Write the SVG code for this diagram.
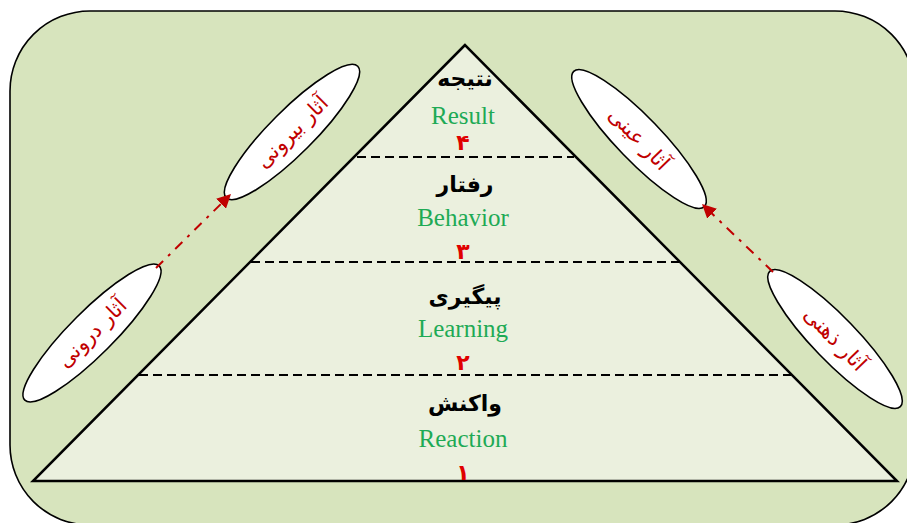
<svg xmlns="http://www.w3.org/2000/svg" width="907" height="523" viewBox="0 0 907 523">
<style>
.fa{font-family:"DejaVu Sans","Noto Sans",sans-serif;text-anchor:middle}
.lvl{font-size:22px;font-weight:bold;fill:#000}
.en{font-family:"Liberation Serif",serif;font-size:25px;fill:#1EAA55;text-anchor:middle}
.num{font-size:22px;font-weight:bold;fill:#E00000}
.oval{fill:#fff;stroke:#000;stroke-width:1.6}
.otxt{font-size:21px;fill:#C00000}
.dash{stroke:#000;stroke-width:2;stroke-dasharray:9 5;fill:none}
.arr{stroke:#C00000;stroke-width:2;stroke-dasharray:10 7 3 7;fill:none}
</style>
<defs>
<marker id="ah" viewBox="0 0 10 10" refX="9" refY="5" markerWidth="7" markerHeight="7" orient="auto" markerUnits="strokeWidth">
<path d="M0,0 L10,5 L0,10 Z" fill="#C00000"/>
</marker>
</defs>
<rect id="background" x="10" y="11" width="905" height="514" rx="80" ry="80" fill="#D7E4BD" stroke="#000" stroke-width="1.6"/>
<g id="pyramid">
<polygon points="465,45 33,481 897,481" fill="#EBF0DE" stroke="#000" stroke-width="2.5" stroke-linejoin="miter"/>
<line class="dash" x1="357" y1="157" x2="574" y2="157"/>
<line class="dash" x1="251" y1="262" x2="679" y2="262"/>
<line class="dash" x1="139" y1="375" x2="791" y2="375"/>
</g>
<g id="level4">
<text class="fa lvl" x="465" y="86">نتیجه</text>
<text class="en" x="463" y="124">Result</text>
<text class="fa num" x="463" y="150">۴</text>
</g>
<g id="level3">
<text class="fa lvl" x="465" y="192">رفتار</text>
<text class="en" x="463" y="226">Behavior</text>
<text class="fa num" x="463" y="259">۳</text>
</g>
<g id="level2">
<text class="fa lvl" x="465" y="304">پیگیری</text>
<text class="en" x="463" y="337">Learning</text>
<text class="fa num" x="463" y="370">۲</text>
</g>
<g id="level1">
<text class="fa lvl" x="465" y="411">واکنش</text>
<text class="en" x="463" y="447">Reaction</text>
<text class="fa num" x="463" y="480">۱</text>
</g>
<g id="inner-effects">
<ellipse class="oval" cx="92" cy="333" rx="95" ry="22" transform="rotate(-45 92 333)"/>
<text class="fa otxt" x="92" y="340" transform="rotate(-45 92 333)">آثار درونی</text>
</g>
<g id="outer-effects">
<ellipse class="oval" cx="292" cy="132" rx="93" ry="22" transform="rotate(-45 292 132)"/>
<text class="fa otxt" x="292" y="139" transform="rotate(-45 292 132)">آثار بیرونی</text>
</g>
<g id="objective-effects">
<ellipse class="oval" cx="639" cy="139" rx="94" ry="22" transform="rotate(46 639 139)"/>
<text class="fa otxt" x="639" y="146" transform="rotate(46 639 139)">آثار عینی</text>
</g>
<g id="mental-effects">
<ellipse class="oval" cx="835" cy="339" rx="94" ry="22" transform="rotate(46 835 339)"/>
<text class="fa otxt" x="835" y="346" transform="rotate(46 835 339)">آثار ذهنی</text>
</g>
<g id="connectors">
<line class="arr" x1="156" y1="268" x2="230" y2="195" marker-end="url(#ah)"/>
<line class="arr" x1="773" y1="272" x2="703" y2="205" marker-end="url(#ah)"/>
</g>
</svg>
